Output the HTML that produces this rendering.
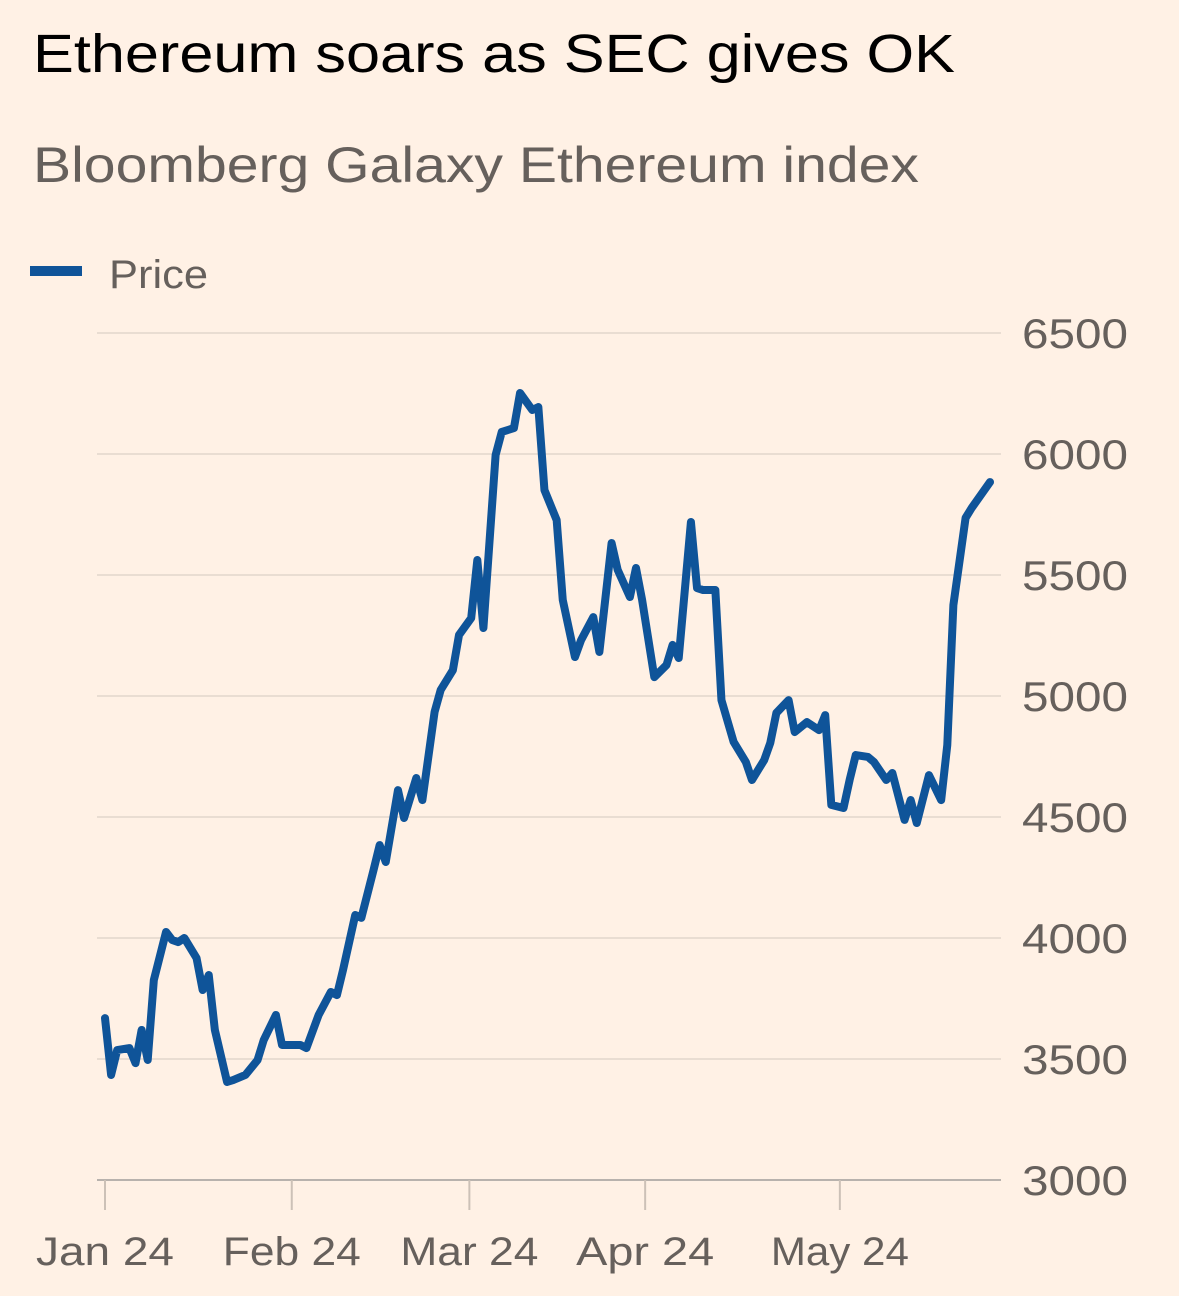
<!DOCTYPE html>
<html><head><meta charset="utf-8"><style>
html,body{margin:0;padding:0;background:#fff1e5;}
svg{display:block;font-family:"Liberation Sans",sans-serif;}
</style></head><body>
<svg id="chart" width="1179" height="1296" viewBox="0 0 1179 1296">
<rect width="1179" height="1296" fill="#fff1e5"/>
<text x="33" y="72" font-size="54" fill="#000" textLength="922" lengthAdjust="spacingAndGlyphs">Ethereum soars as SEC gives OK</text>
<text x="33" y="182" font-size="50" fill="#66605c" textLength="886" lengthAdjust="spacingAndGlyphs">Bloomberg Galaxy Ethereum index</text>
<g>
<rect x="30" y="266" width="52" height="10" fill="#0f5499"/>
<text x="109" y="288" font-size="40" fill="#66605c" textLength="99" lengthAdjust="spacingAndGlyphs">Price</text>
</g>
<g id="grid"></g><g id="xaxis"></g><g id="plot"></g>
</svg>
<script>
const days=[0,1,2,4,5,6,7,8,10,11,12,13,15,16,17,18,20,21,23,25,26,28,29,31,32,33,35,37,38,39,41,42,44,45,46,48,49,51,52,54,55,57,58,60,61,62,64,65,67,68,70,71,72,74,75,77,78,80,81,83,84,86,87,88,90,92,93,94,96,97,98,100,101,103,105,106,108,109,110,112,113,115,117,118,119,121,122,123,125,126,128,129,131,132,133,135,137,138,139,141,142,145];
const prices=[3669,3434,3537,3545,3483,3620,3496,3826,4025,3992,3983,4000,3917,3785,3847,3620,3405,3413,3434,3496,3578,3682,3558,3558,3558,3545,3682,3777,3764,3868,4095,4083,4281,4384,4314,4611,4496,4661,4570,4934,5025,5107,5252,5322,5562,5281,5996,6091,6107,6252,6182,6194,5851,5727,5397,5161,5231,5326,5182,5632,5521,5409,5529,5397,5078,5128,5211,5157,5719,5446,5438,5438,4983,4810,4727,4653,4735,4806,4930,4983,4851,4892,4859,4921,4550,4537,4653,4756,4748,4727,4653,4682,4488,4570,4475,4673,4570,4797,5376,5736,5777,5884];
const yTicks=[3000,3500,4000,4500,5000,5500,6000,6500];
const xTickDays=[0,30.6,59.7,88.5,120.4];
const xTickLabels=["Jan 24","Feb 24","Mar 24","Apr 24","May 24"];
const NS="http://www.w3.org/2000/svg";
const x=d=>105+d*(885/145);
const y=v=>1180-(v-3000)*(847/3500);
function mk(t,a,p){const e=document.createElementNS(NS,t);for(const k in a)e.setAttribute(k,a[k]);p.appendChild(e);return e;}
const grid=document.getElementById('grid'),xa=document.getElementById('xaxis'),plot=document.getElementById('plot');
yTicks.forEach(v=>{
 const l=mk('line',{x1:97,x2:1001,y1:y(v),y2:y(v),stroke:v===3000?'#b8b2ad':'#e9ddd2','stroke-width':2},grid);
 
 
 const t=mk('text',{x:1128,y:y(v)+15,'font-size':42,fill:'#66605c','text-anchor':'end',textLength:106,lengthAdjust:'spacingAndGlyphs'},grid);
 t.textContent=v;
 
 
});
xTickDays.forEach((d,i)=>{
 const l=mk('line',{x1:x(d),x2:x(d),y1:1180,y2:1210,stroke:'#ccc1b7','stroke-width':2},xa);
 
 
 const t=mk('text',{x:x(d),y:1265,'font-size':40,fill:'#66605c','text-anchor':'middle',textLength:xTickLabels[i].length*23,lengthAdjust:'spacingAndGlyphs'},xa);
 t.textContent=xTickLabels[i];
 
 
});
const p=mk('polyline',{points:days.map((d,i)=>x(d)+','+y(prices[i])).join(' '),fill:'none',stroke:'#0f5499','stroke-width':8,'stroke-linejoin':'round','stroke-linecap':'round'},plot);


</script>
</body></html>
